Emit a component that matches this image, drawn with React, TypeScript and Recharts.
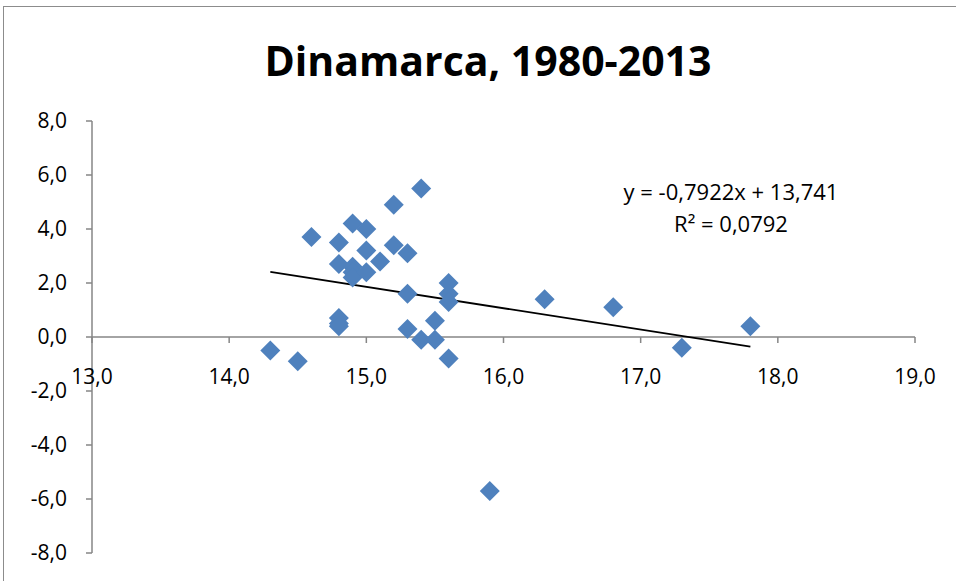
import React from 'react'
import {
  ScatterChart,
  Scatter,
  XAxis,
  YAxis,
  ReferenceLine
} from 'recharts'

// Denmark 1980-2013 (x, y) pairs
const xValues = [
  14.3, 14.5, 14.6, 14.8, 14.8, 14.8, 14.8, 14.8, 14.9, 14.9, 14.9, 14.9,
  15.0, 15.0, 15.0, 15.1, 15.2, 15.2, 15.3, 15.3, 15.3, 15.4, 15.4, 15.5,
  15.5, 15.6, 15.6, 15.6, 15.6, 15.9, 16.3, 16.8, 17.3, 17.8
]
const yValues = [
  -0.5, -0.9, 3.7, 3.5, 2.7, 0.7, 0.5, 0.4, 4.2, 2.6, 2.4, 2.2,
  4.0, 3.2, 2.4, 2.8, 4.9, 3.4, 3.1, 1.6, 0.3, 5.5, -0.1, 0.6,
  -0.1, 2.0, 1.6, 1.3, -0.8, -5.7, 1.4, 1.1, -0.4, 0.4
]
const xTicks = [13, 14, 15, 16, 17, 18, 19]
const yTicks = [-8, -6, -4, -2, 0, 2, 4, 6, 8]
const slope = -0.7922
const intercept = 13.741

const points = xValues.map((x, i) => ({ x, y: yValues[i] }))
const xMin = Math.min(...xValues)
const xMax = Math.max(...xValues)
const trend = [
  { x: xMin, y: slope * xMin + intercept },
  { x: xMax, y: slope * xMax + intercept }
]

const W = 956
const H = 581
const margin = { top: 121, right: 41, bottom: 8, left: 8 }
const X_AXIS_H = 20
const plotH = H - margin.top - margin.bottom - X_AXIS_H
const zeroY = margin.top + plotH * (8 / 16)

const FONT = "'Open Sans', sans-serif"
const AXIS = '#868686'
const BLUE = '#4F81BD'

const fmt = (v: number) => v.toFixed(1).replace('.', ',')

const Diamond = (props: any) => {
  const { cx, cy } = props
  const r = 10
  return (
    <polygon
      points={`${cx},${cy - r} ${cx + r},${cy} ${cx},${cy + r} ${cx - r},${cy}`}
      fill={BLUE}
    />
  )
}

// x labels sit under the y=0 line, like Excel's crossing axis
const XTick = (props: any) => {
  const { x, payload } = props
  return (
    <g>
      <line x1={x} x2={x} y1={zeroY} y2={zeroY + 6} stroke={AXIS} strokeWidth={1.5} />
      <text
        x={x}
        y={zeroY + 47}
        textAnchor="middle"
        fontSize={21}
        fontFamily={FONT}
        fill="#000"
      >
        {fmt(payload.value)}
      </text>
    </g>
  )
}

export default function App() {
  return (
    <div
      style={{
        position: 'fixed',
        left: 0,
        top: 0,
        width: W,
        height: H,
        overflow: 'hidden',
        background: '#fff'
      }}
    >
      <div
        style={{
          position: 'absolute',
          left: 3,
          top: 6,
          width: 1100,
          height: 800,
          border: '1.5px solid #8c8c8c'
        }}
      />
      <div
        style={{
          position: 'absolute',
          left: 0,
          top: 32,
          width: 976,
          textAlign: 'center',
          fontFamily: FONT,
          fontWeight: 700,
          fontSize: 41,
          color: '#000'
        }}
      >
        Dinamarca, 1980-2013
      </div>
      <div
        style={{
          position: 'absolute',
          left: 581,
          top: 175,
          width: 300,
          textAlign: 'center',
          fontFamily: FONT,
          fontSize: 22,
          lineHeight: '32px',
          color: '#000'
        }}
      >
        <div>y = -0,7922x + 13,741</div>
        <div>R² = 0,0792</div>
      </div>
      <div style={{ position: 'absolute', left: 0, top: 0 }}>
        <ScatterChart width={W} height={H} margin={margin}>
          <XAxis
            type="number"
            dataKey="x"
            domain={[13, 19]}
            ticks={xTicks}
            axisLine={false}
            tickLine={false}
            height={X_AXIS_H}
            tick={<XTick />}
            allowDataOverflow
          />
          <YAxis
            type="number"
            dataKey="y"
            domain={[-8, 8]}
            ticks={yTicks}
            width={84}
            tickFormatter={fmt}
            tick={{ fontSize: 21, fill: '#000', fontFamily: FONT }}
            axisLine={{ stroke: AXIS, strokeWidth: 1.5 }}
            tickLine={{ stroke: AXIS, strokeWidth: 1.5 }}
            tickSize={6}
            tickMargin={19}
            allowDataOverflow
          />
          <ReferenceLine y={0} stroke={AXIS} strokeWidth={1.5} />
          <ReferenceLine
            segment={trend}
            stroke="#000"
            strokeWidth={1.8}
            ifOverflow="visible"
          />
          <Scatter
            data={points}
            shape={<Diamond />}
            isAnimationActive={false}
          />
        </ScatterChart>
      </div>
    </div>
  )
}
